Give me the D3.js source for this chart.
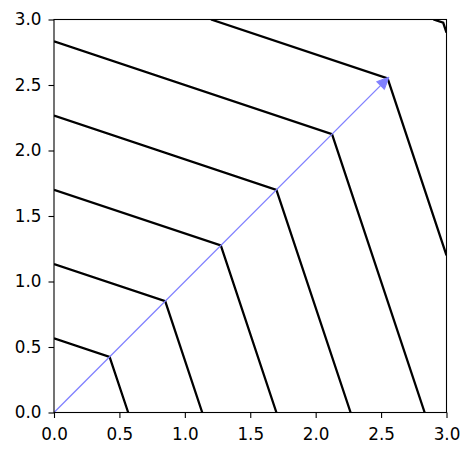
<!DOCTYPE html>
<html><head><meta charset="utf-8">
<script src="https://cdn.jsdelivr.net/npm/d3@7"></script>
<style>body{margin:0;background:#fff}</style>
</head><body>
<svg id="c" width="474" height="455"></svg>
<script>
// Contour polylines (x, y in data units)
const contour1 = [[0,0.567],[0.425,0.425],[0.567,0]];
const contour2 = [[0,1.133],[0.85,0.85],[1.133,0]];
const contour3 = [[0,1.7],[1.275,1.275],[1.7,0]];
const contour4 = [[0,2.267],[1.7,1.7],[2.267,0]];
const contour5 = [[0,2.833],[2.125,2.125],[2.833,0]];
const contour6 = [[1.2,3],[2.55,2.55],[3,1.2]];
const contour7 = [[2.9,3],[2.975,2.975],[3,2.9]];
const contours = [contour1,contour2,contour3,contour4,contour5,contour6,contour7];
// Arrow: start and tip
const arrowStart = [0,0];
const arrowEnd = [2.56,2.56];
const xTicks = [0,0.5,1,1.5,2,2.5,3];
const yTicks = [0,0.5,1,1.5,2,2.5,3];

const svg = d3.select("#c");
const L = 54, R = 446.5, T = 19.5, B = 412.5;
const x = d3.scaleLinear().domain([0,3]).range([L,R]);
const y = d3.scaleLinear().domain([0,3]).range([B,T]);

svg.append("defs").append("clipPath").attr("id","clip")
  .append("rect").attr("x",L).attr("y",T).attr("width",R-L).attr("height",B-T);

const g = svg.append("g").attr("clip-path","url(#clip)");
const line = d3.line().x(d=>x(d[0])).y(d=>y(d[1]));
g.selectAll("path.ct").data(contours).join("path")
  .attr("class","ct").attr("d",line)
  .attr("fill","none").attr("stroke","#000").attr("stroke-width",2.3)
  .attr("stroke-linejoin","miter");

// arrow
const col = "#8080ff";
const x0 = x(arrowStart[0]), y0 = y(arrowStart[1]);
const x1 = x(arrowEnd[0]), y1 = y(arrowEnd[1]);
const ang = Math.atan2(y1-y0, x1-x0);
const hl = 12, hw = 5.5;
const bx = x1 - hl*Math.cos(ang), by = y1 - hl*Math.sin(ang);
svg.append("line").attr("x1",x0).attr("y1",y0).attr("x2",bx).attr("y2",by)
  .attr("stroke",col).attr("stroke-width",1.3);
const px = -Math.sin(ang), py = Math.cos(ang);
svg.append("path")
  .attr("d",`M${x1},${y1}L${bx+hw*px},${by+hw*py}L${bx-hw*px},${by-hw*py}Z`)
  .attr("fill",col).attr("stroke",col).attr("stroke-width",1);

// axes
const fmt = d3.format(".1f");
const ax = svg.append("g").attr("transform",`translate(0,${B})`)
  .call(d3.axisBottom(x).tickValues(xTicks).tickFormat(fmt).tickSize(5.5).tickPadding(10));
const ay = svg.append("g").attr("transform",`translate(${L},0)`)
  .call(d3.axisLeft(y).tickValues(yTicks).tickFormat(fmt).tickSize(5.5).tickPadding(7));
[ax,ay].forEach(a=>{
  a.select(".domain").remove();
  a.selectAll("line").attr("stroke","#000").attr("stroke-width",1.1);
  a.selectAll("text").attr("font-family","DejaVu Sans").attr("font-size",16.8).attr("fill","#000");
});
svg.append("rect").attr("x",L).attr("y",T).attr("width",R-L).attr("height",B-T)
  .attr("fill","none").attr("stroke","#000").attr("stroke-width",1.1);
</script>
</body></html>
